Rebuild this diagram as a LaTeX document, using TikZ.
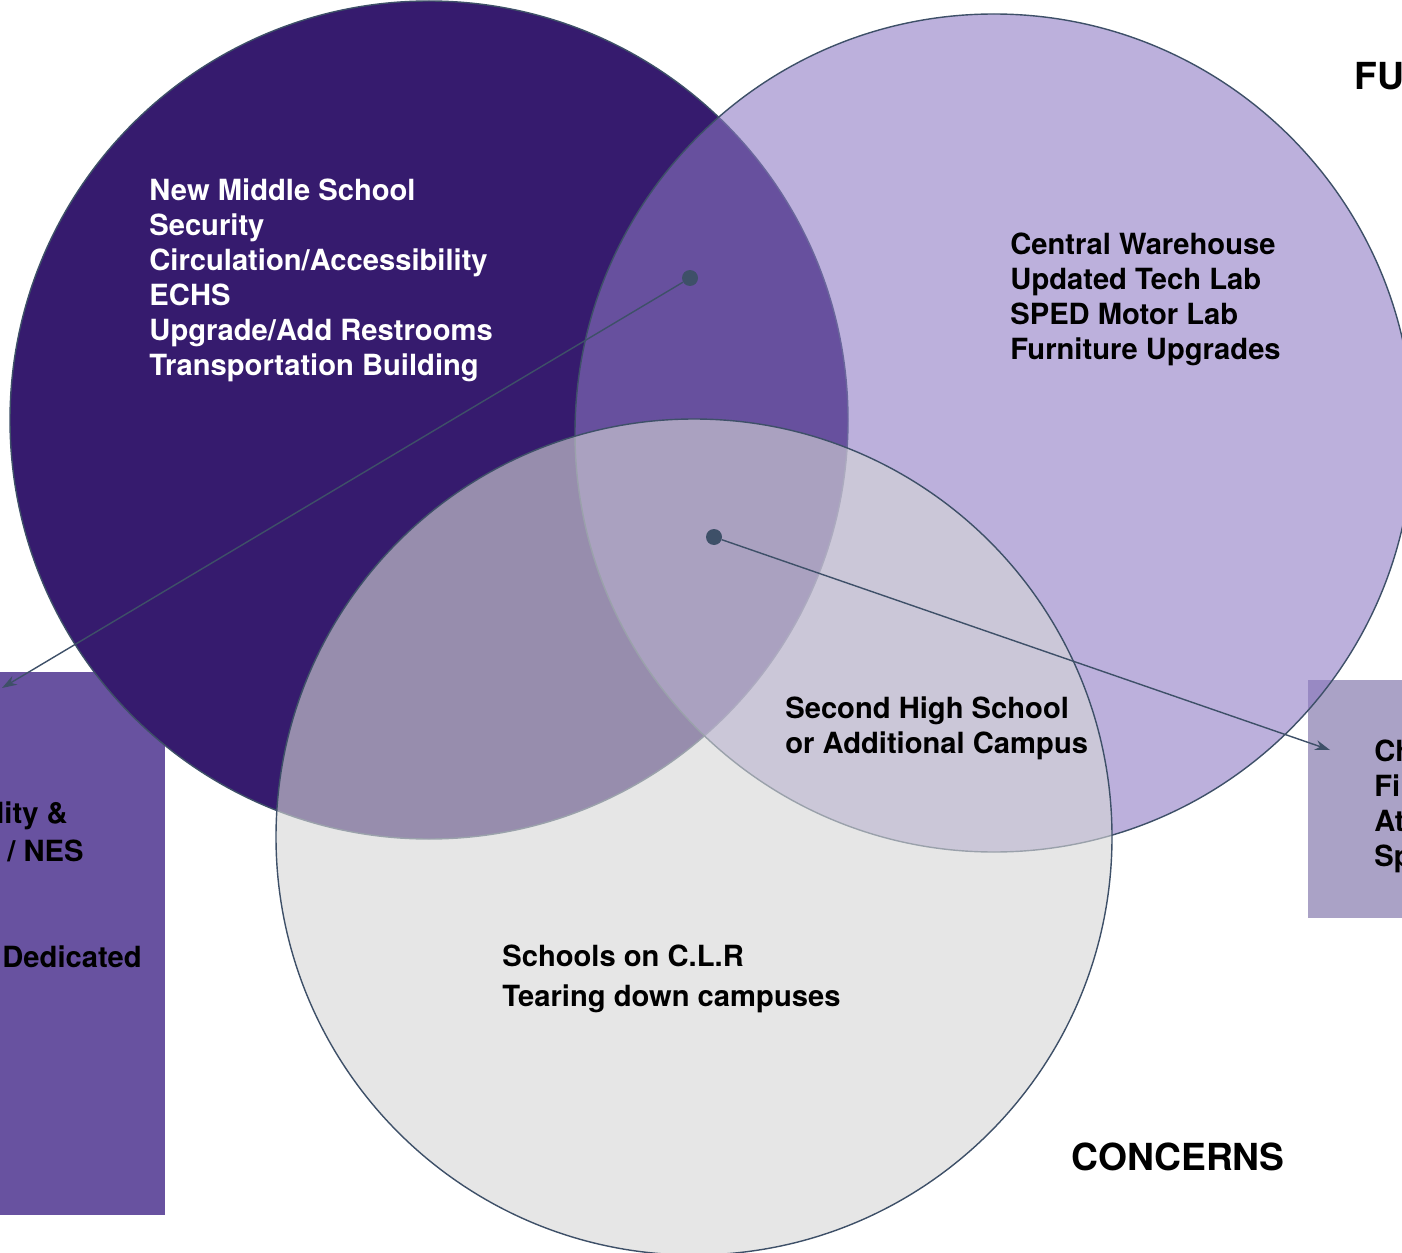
\documentclass[tikz,border=0pt]{standalone}
\usepackage{fontspec}
\setmainfont{TeX Gyre Heros}
\usetikzlibrary{arrows.meta}
\definecolor{needs}{RGB}{54,27,110}
\definecolor{wants}{RGB}{139,119,194}
\definecolor{worry}{RGB}{214,214,214}
\definecolor{leftbox}{RGB}{104,82,160}
\definecolor{rightbox}{RGB}{170,162,198}
\definecolor{slate}{RGB}{62,80,104}
\begin{document}
\begin{tikzpicture}[x=0.02cm,y=-0.02cm,
    ring/.style={draw=slate,line width=0.8pt},
    venntext/.style={font=\bfseries\fontsize{16.6}{19.9}\selectfont,align=left,inner sep=0pt},
    headtext/.style={font=\bfseries\fontsize{21.2}{25}\selectfont,inner sep=0pt},
    dot/.style={circle,fill=slate,inner sep=0pt,minimum size=0.32cm},
    pointer/.style={draw=slate,line width=0.8pt,-{Stealth[length=0.3cm,width=0.2cm]}}]
    \clip (0,0) rectangle (1402,1253);
    % side boxes
    \fill[leftbox] (-10,672) rectangle (165,1215);
    \fill[rightbox] (1308,680) rectangle (1420,918);
    % circles
    \draw[ring,fill=needs] (429,420) circle[radius=419];
    \draw[ring,fill=wants,fill opacity=0.58] (994,433) circle[radius=419];
    \draw[ring,fill=worry,fill opacity=0.61] (694,837) circle[radius=418];
    % texts
    \node[venntext,text=white,anchor=west] (needs) at (149,280) {New Middle School\\Security\\Circulation/Accessibility\\ECHS\\Upgrade/Add Restrooms\\Transportation Building};
    \node[venntext,anchor=west] (wants) at (1010,299) {Central Warehouse\\Updated Tech Lab\\SPED Motor Lab\\Furniture Upgrades};
    \node[venntext,anchor=west] (both) at (785,728) {Second High School\\or Additional Campus};
    \node[venntext,anchor=west,font=\bfseries\fontsize{16.6}{22.8}\selectfont] (worry) at (502,979) {Schools on C.L.R\\Tearing down campuses};
    \node[venntext,anchor=east] (l1) at (68,816) {lity \&};
    \node[venntext,anchor=east] (l2) at (84,851) {/ NES};
    \node[venntext,anchor=east] (l3) at (142,957) {Dedicated};
    \node[venntext,anchor=west] (r1) at (1374,806) {Ch\\Fir\\At\\Sp};
    \node[headtext,anchor=center] (concerns) at (1178,1157) {CONCERNS};
    \node[headtext,anchor=west] (fu) at (1354,76) {FU};
    % pointers
    \node[dot] (dota) at (690,278) {};
    \node[dot] (dotb) at (714,537) {};
    \coordinate (tipl) at (2,688);
    \coordinate (tipr) at (1330,750);
    \draw[pointer] (dota) to (tipl);
    \draw[pointer] (dotb) to (tipr);
\end{tikzpicture}
\end{document}
